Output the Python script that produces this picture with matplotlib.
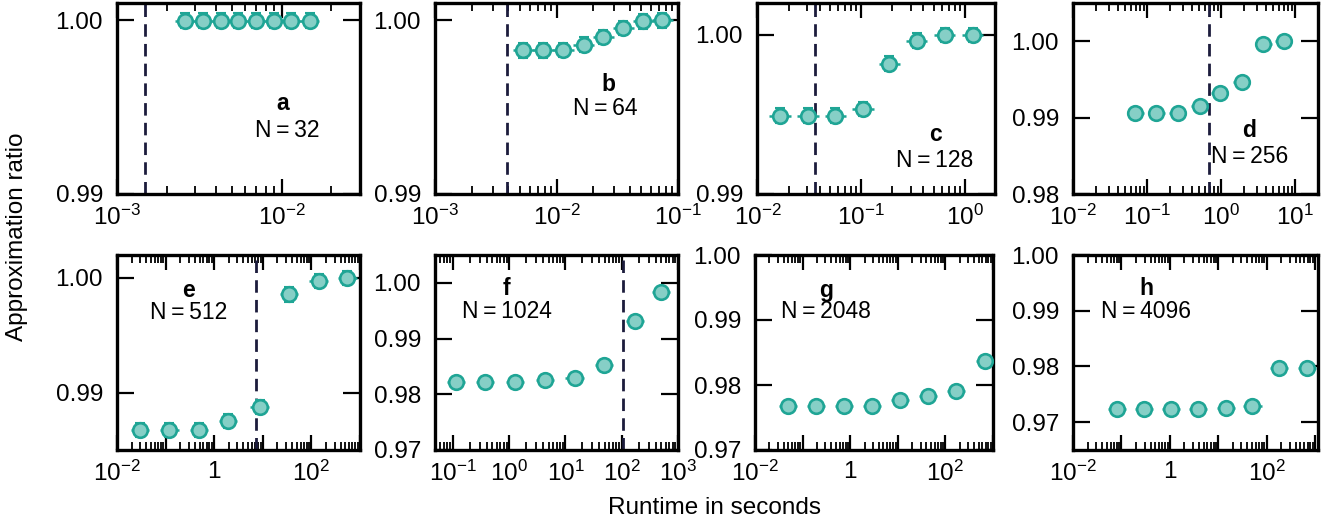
import numpy as np
import matplotlib
matplotlib.use("Agg")
import matplotlib.pyplot as plt
from matplotlib.ticker import FixedLocator, LogLocator, FuncFormatter, NullFormatter

plt.rcParams['font.family'] = ['Liberation Sans', 'DejaVu Sans']
plt.rcParams['mathtext.fontset'] = 'custom'
plt.rcParams['mathtext.rm'] = 'Liberation Sans'
plt.rcParams['mathtext.it'] = 'Liberation Sans:italic'
plt.rcParams['mathtext.bf'] = 'Liberation Sans:bold'

# ---------------- data ----------------
panel_letters = ["a", "b", "c", "d", "e", "f", "g", "h"]
sizes = [32, 64, 128, 256, 512, 1024, 2048, 4096]

runtime_a = [2.58e-3, 3.32e-3, 4.27e-3, 5.41e-3, 6.95e-3, 8.95e-3, 1.15e-2, 1.48e-2]
ratio_a = [0.99999, 0.99999, 0.99999, 0.99999, 0.99999, 0.99999, 0.99999, 0.99999]
runtime_b = [5.33e-3, 7.80e-3, 1.14e-2, 1.68e-2, 2.43e-2, 3.54e-2, 5.18e-2, 7.43e-2]
ratio_b = [0.99827, 0.99827, 0.99830, 0.99860, 0.99904, 0.99956, 0.99994, 1.0]
runtime_c = [0.0165, 0.0309, 0.0564, 0.104, 0.188, 0.344, 0.641, 1.19]
ratio_c = [0.99492, 0.99492, 0.99492, 0.99533, 0.99818, 0.99964, 1.0, 1.0]
runtime_d = [0.0686, 0.132, 0.259, 0.509, 0.949, 1.89, 3.71, 6.98]
ratio_d = [0.99056, 0.99056, 0.99056, 0.99151, 0.99317, 0.99465, 0.99957, 1.0]
runtime_e = [0.0296, 0.119, 0.483, 1.93, 8.63, 34.5, 140.6, 553.0]
ratio_e = [0.98676, 0.98676, 0.98676, 0.98754, 0.98873, 0.99856, 0.99971, 1.0]
runtime_f = [0.112, 0.372, 1.26, 4.30, 14.5, 49.0, 171.0, 501.0]
ratio_f = [0.98212, 0.98212, 0.98212, 0.98261, 0.98284, 0.98531, 0.99309, 0.99838]
runtime_g = [0.049, 0.191, 0.753, 2.85, 11.0, 43.1, 168.0, 670.0]
ratio_g = [0.97671, 0.97671, 0.97671, 0.97675, 0.97775, 0.97836, 0.97903, 0.98370]
runtime_h = [0.080, 0.293, 1.05, 3.77, 14.3, 50.7, 180.0, 675.0]
ratio_h = [0.97233, 0.97233, 0.97233, 0.97233, 0.97262, 0.97297, 0.97968, 0.97978]

runtimes = [runtime_a, runtime_b, runtime_c, runtime_d, runtime_e, runtime_f, runtime_g, runtime_h]
ratios = [ratio_a, ratio_b, ratio_c, ratio_d, ratio_e, ratio_f, ratio_g, ratio_h]

# relative runtime spread (multiplicative) and ratio error per panel
runtime_spread = [1.14, 1.22, 1.27, 1.30, 1.55, 1.45, 1.55, 1.55]
ratio_err = [0.00042, 0.00042, 0.00046, 0.0006, 0.00062, 0.0009, 0.00075, 0.0009]

# vertical dashed threshold runtime (None = no line)
threshold = [1.48e-3, 3.9e-3, 0.0357, 0.678, 7.1, 106.0, None, None]

xlims = [(1e-3, 3.0e-2), (1e-3, 1e-1), (0.0099, 1.96), (0.0099, 20.3),
         (1e-2, 1e3), (0.048, 1000), (1e-2, 1e3), (1e-2, 1.15e3)]
ylims = [(0.99, 1.001), (0.99, 1.001), (0.99, 1.002), (0.98, 1.005),
         (0.985, 1.002), (0.97, 1.005), (0.97, 1.0), (0.965, 1.0)]
yticks = [[0.99, 1.00], [0.99, 1.00], [0.99, 1.00], [0.98, 0.99, 1.00],
          [0.99, 1.00], [0.97, 0.98, 0.99, 1.00], [0.97, 0.98, 0.99, 1.00],
          [0.97, 0.98, 0.99, 1.00]]
xmajor = [[1e-3, 1e-2], [1e-3, 1e-2, 1e-1], [1e-2, 1e-1, 1e0], [1e-2, 1e-1, 1e0, 1e1],
          [1e-2, 1e-1, 1e0, 1e1, 1e2, 1e3], [1e-1, 1e0, 1e1, 1e2, 1e3],
          [1e-2, 1e-1, 1e0, 1e1, 1e2, 1e3], [1e-2, 1e-1, 1e0, 1e1, 1e2, 1e3]]
labelled_every_other = [False, False, False, False, True, False, True, True]

# text positions (axes fraction): letter, N label
text_pos = [((0.683, 0.476), (0.70, 0.33)),
            ((0.712, 0.571), (0.70, 0.45)),
            ((0.748, 0.309), (0.748, 0.178)),
            ((0.718, 0.335), (0.72, 0.194)),
            ((0.296, 0.82), (0.296, 0.704)),
            ((0.296, 0.83), (0.296, 0.71)),
            ((0.30, 0.82), (0.30, 0.71)),
            ((0.298, 0.83), (0.298, 0.71))]

# ---------------- layout ----------------
W, H = 1336, 525
fig = plt.figure(figsize=(W / 100, H / 100), dpi=100)

cols = [(117, 360), (435, 678), (757, 995), (1073, 1318)]
cols_bottom = [(117, 360), (435, 678), (755, 993), (1073, 1318)]
rows = [(3, 194), (255, 450)]

edge_col = "#1fa595"
face_col = "#86cfc6"
dash_col = "#1c1c3c"


def fmt_pow(v, every_other):
    e = int(round(np.log10(v)))
    if every_other:
        if e % 2 != 0:
            return ""
        if e == 0:
            return "1"
    e_str = str(e).replace("-", "\u2212")
    return r"$\mathregular{10^{%s}}$" % e_str


for i in range(8):
    r = i // 4
    c = i % 4
    x0, x1 = (cols if r == 0 else cols_bottom)[c]
    y0, y1 = rows[r]
    ax = fig.add_axes([x0 / W, 1 - y1 / H, (x1 - x0) / W, (y1 - y0) / H])

    xs = np.array(runtimes[i])
    ys = np.array(ratios[i])
    s = runtime_spread[i]
    xerr = np.vstack([xs - xs / s, xs * s - xs])
    yerr = np.full_like(ys, ratio_err[i])
    # vertical error with caps
    ax.errorbar(xs, ys, yerr=yerr, fmt='none', ecolor=edge_col,
                elinewidth=1.3, capsize=3.8, capthick=1.5, zorder=2.5)
    # horizontal error without caps, plus markers
    ax.errorbar(xs, ys, xerr=xerr, fmt='o', ms=10.5,
                mfc=face_col, mec=edge_col, mew=1.9, ecolor=edge_col,
                elinewidth=1.8, capsize=0, zorder=3)

    if threshold[i] is not None:
        ax.axvline(threshold[i], color=dash_col, lw=2.0, ls=(0, (4.5, 2.6)), zorder=2)

    ax.set_xscale('log')
    ax.set_xlim(*xlims[i])
    ax.set_ylim(*ylims[i])

    ax.xaxis.set_major_locator(FixedLocator(xmajor[i]))
    eo = labelled_every_other[i]
    ax.xaxis.set_major_formatter(FuncFormatter(lambda v, p, eo=eo: fmt_pow(v, eo)))
    ax.xaxis.set_minor_locator(LogLocator(base=10, subs=np.arange(2, 10), numticks=50))
    ax.xaxis.set_minor_formatter(NullFormatter())

    ax.set_yticks(yticks[i])
    ax.yaxis.set_major_formatter(FuncFormatter(lambda v, p: "%.2f" % v))

    ax.tick_params(which='both', direction='in', top=True, right=True,
                   labelsize=17.5, width=1.6, colors='black')
    ax.tick_params(which='major', length=11, pad=8)
    ax.tick_params(axis='y', which='major', length=12, pad=10)
    ax.tick_params(which='minor', length=5.5, width=1.3)
    for sp in ax.spines.values():
        sp.set_linewidth(2.4)

    (lx, ly), (nx, ny) = text_pos[i]
    ax.text(lx, ly, panel_letters[i], transform=ax.transAxes, ha='center', va='center',
            fontsize=16.5, fontweight='bold')
    ax.text(nx, ny, "N\u2009=\u2009%d" % sizes[i], transform=ax.transAxes, ha='center',
            va='center', fontsize=16.5)

fig.text(17 / W, 1 - 237 / H, "Approximation ratio", rotation=90, ha='center',
         va='center', fontsize=17.5)
fig.text(715 / W, 1 - 508 / H, "Runtime in seconds", ha='center', va='center', fontsize=17.5)

fig.savefig("out.png", dpi=100)
